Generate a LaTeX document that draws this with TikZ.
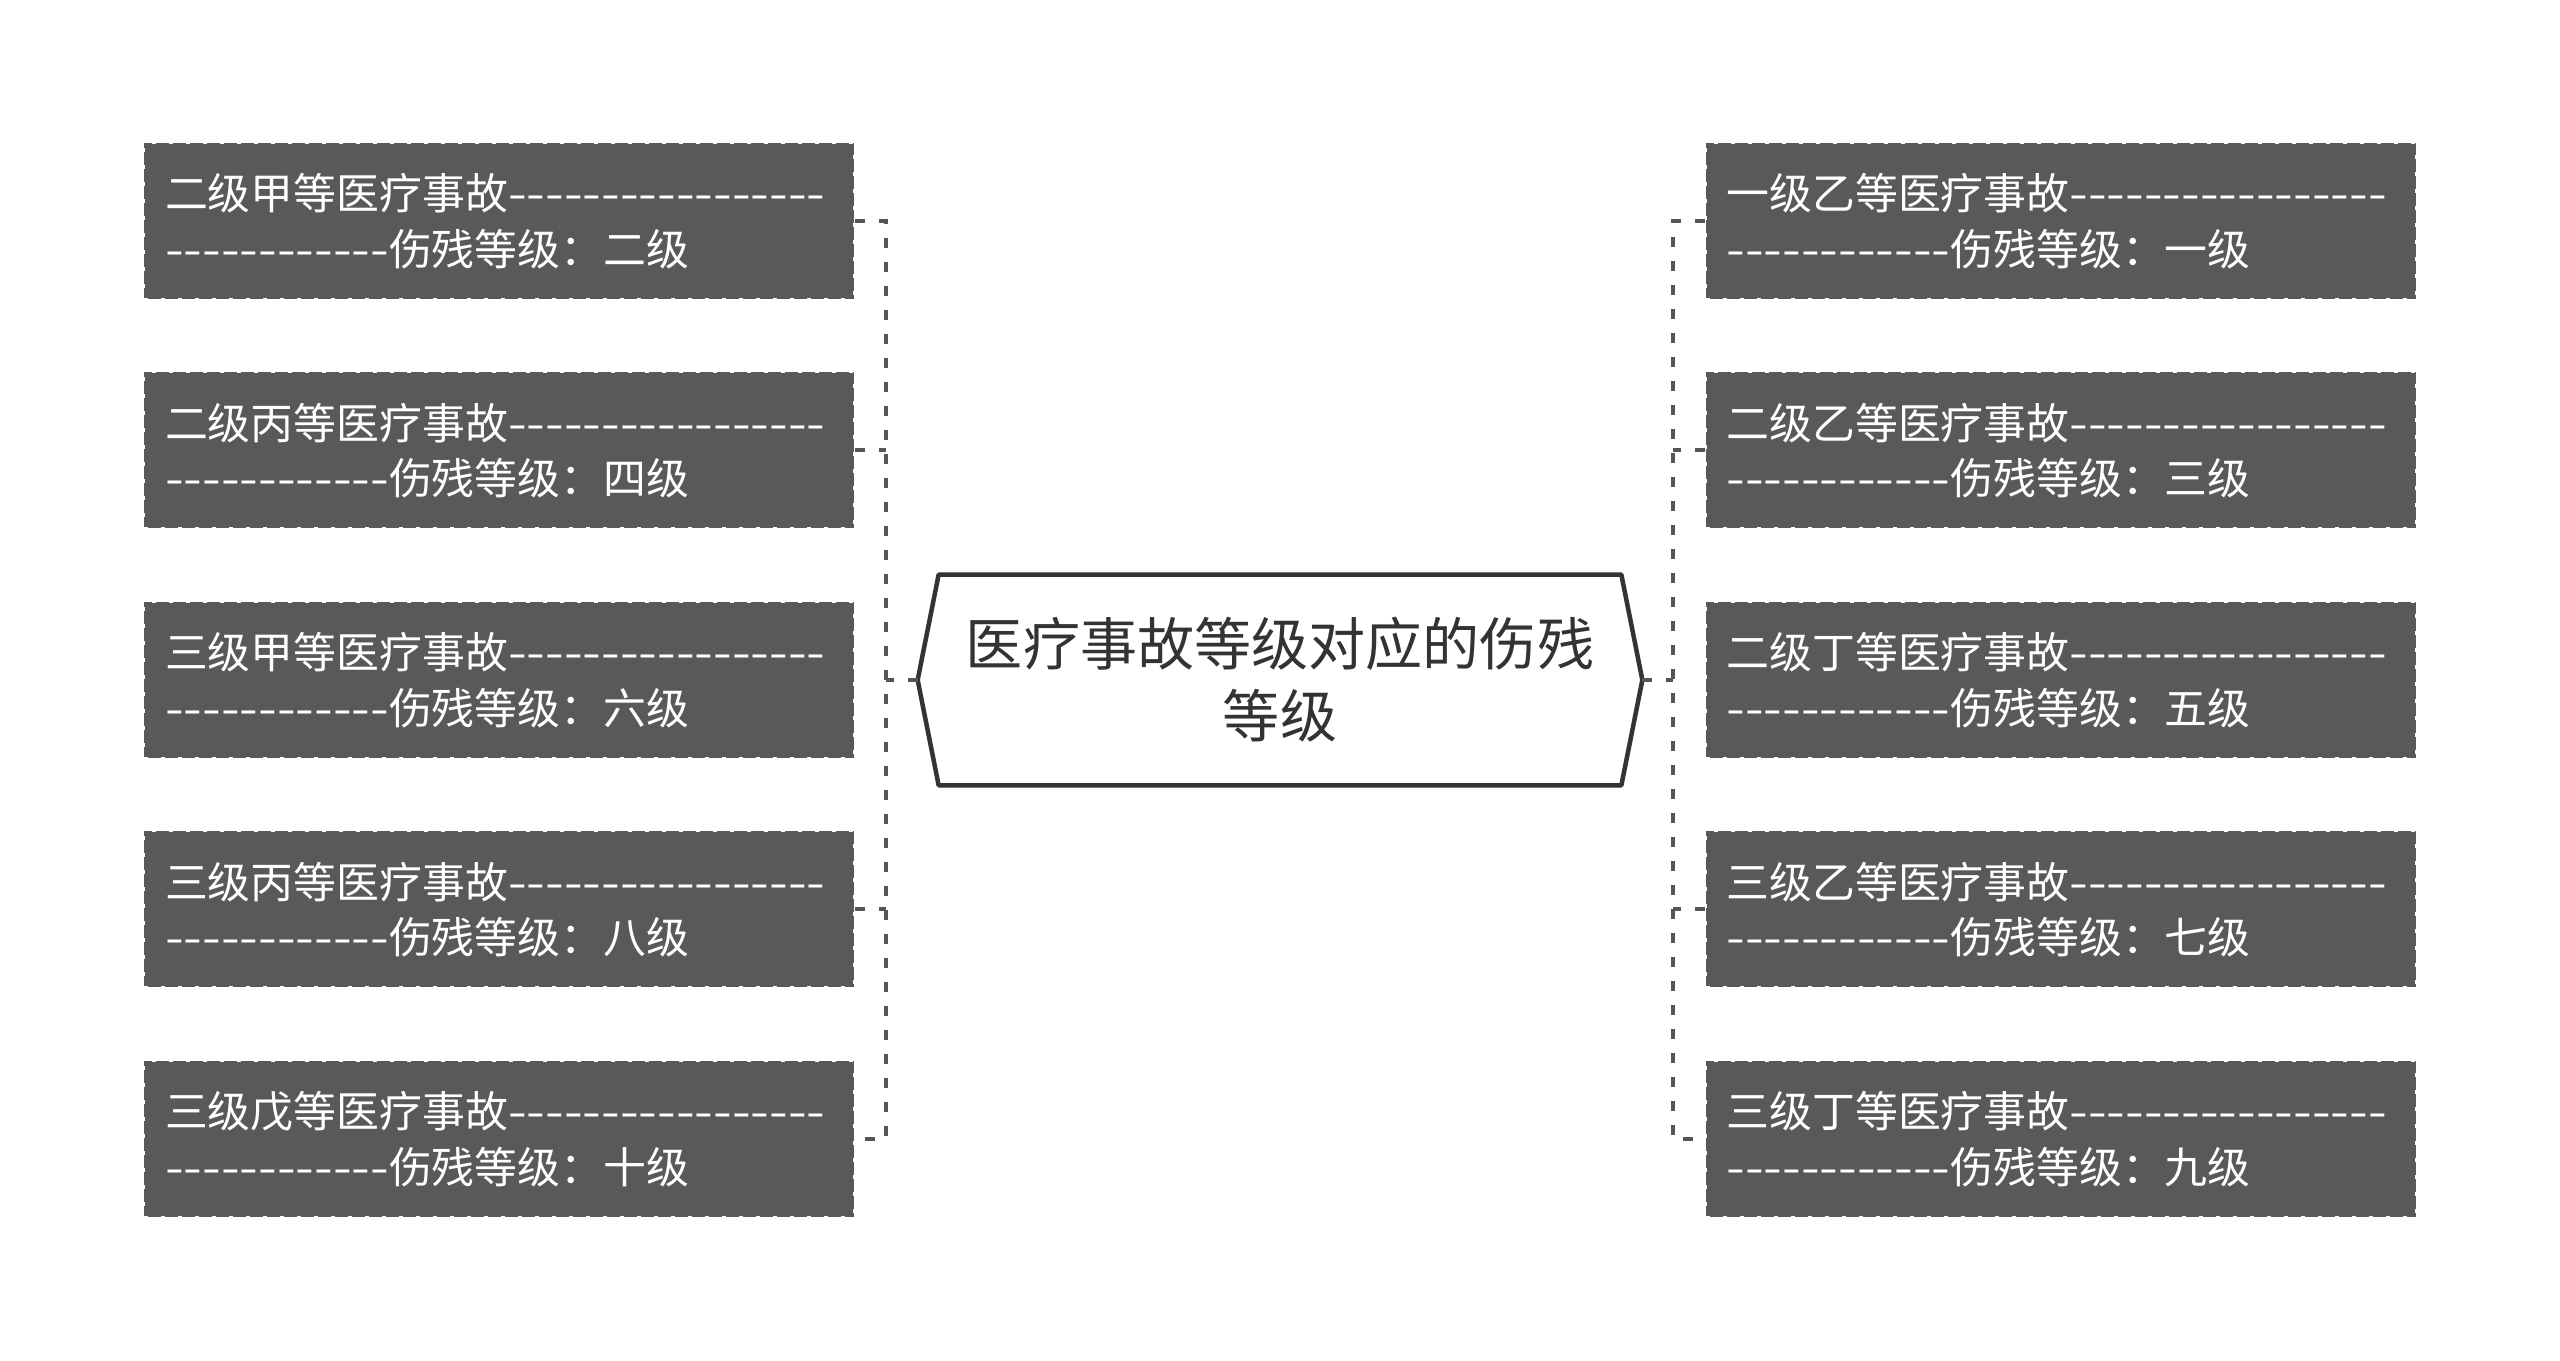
\documentclass[tikz,border=0pt]{standalone}
\usepackage{fontspec}
\usepackage{graphicx}
\setmainfont{Noto Sans CJK SC}[Ligatures=TeXOff]
\usetikzlibrary{calc}
\definecolor{boxgray}{HTML}{595959}
\definecolor{linegray}{HTML}{555555}
\definecolor{ink}{HTML}{333333}
\newcommand{\hy}[1]{\scalebox{1.255}[1]{#1}}

\begin{document}
\begin{tikzpicture}[
  grade/.style={fill=boxgray, draw=white, line width=0.04cm, dash pattern=on 0.08cm off 0.26cm, text=white, align=left, text width=13.36cm, inner xsep=0.42cm, inner ysep=0pt, minimum height=3.12cm, font=\fontsize{24.4}{31.6}\selectfont},
  title/.style={align=center, text width=13.2cm, minimum width=13.64cm, minimum height=4.2cm, inner sep=0pt, text=ink, font=\fontsize{32.5}{41}\selectfont},
  link/.style={draw=linegray, line width=0.08cm, dash pattern=on 0.2cm off 0.28cm}]
  \useasboundingbox (0,0) rectangle (51.2,27.22);
  \node[title] (t) at (25.6,13.62) {医疗事故等级对应的伤残\\等级};
  \coordinate (tipL) at ($(t.west)+(-0.42,0)$);
  \coordinate (tipR) at ($(t.east)+(0.42,0)$);
  \draw[ink, line width=0.09cm, line join=round] (t.north west) -- (t.north east) -- (tipR) -- (t.south east) -- (t.south west) -- (tipL) -- cycle;

  \node[grade] (l1) at (9.98,22.80) {二级甲等医疗事故\hy{-----------------}\\\hy{------------}伤残等级：二级};
  \node[grade] (l2) at (9.98,18.21) {二级丙等医疗事故\hy{-----------------}\\\hy{------------}伤残等级：四级};
  \node[grade] (l3) at (9.98,13.62) {三级甲等医疗事故\hy{-----------------}\\\hy{------------}伤残等级：六级};
  \node[grade] (l4) at (9.98,9.03) {三级丙等医疗事故\hy{-----------------}\\\hy{------------}伤残等级：八级};
  \node[grade] (l5) at (9.98,4.44) {三级戊等医疗事故\hy{-----------------}\\\hy{------------}伤残等级：十级};

  \node[grade] (r1) at (41.21,22.80) {一级乙等医疗事故\hy{-----------------}\\\hy{------------}伤残等级：一级};
  \node[grade] (r2) at (41.21,18.21) {二级乙等医疗事故\hy{-----------------}\\\hy{------------}伤残等级：三级};
  \node[grade] (r3) at (41.21,13.62) {二级丁等医疗事故\hy{-----------------}\\\hy{------------}伤残等级：五级};
  \node[grade] (r4) at (41.21,9.03) {三级乙等医疗事故\hy{-----------------}\\\hy{------------}伤残等级：七级};
  \node[grade] (r5) at (41.21,4.44) {三级丁等医疗事故\hy{-----------------}\\\hy{------------}伤残等级：九级};

  \draw[link] (l1.east) -- ++(0.62,0) |- (l5.east);
  \draw[link] (l2.east) -- ++(0.62,0);
  \draw[link] (l4.east) -- ++(0.62,0);
  \draw[link] (tipL) -- (tipL -| {$(l1.east)+(0.62,0)$});
  \draw[link] (r1.west) -- ++(-0.64,0) |- (r5.west);
  \draw[link] (r2.west) -- ++(-0.64,0);
  \draw[link] (r4.west) -- ++(-0.64,0);
  \draw[link] (tipR) -- (tipR -| {$(r1.west)+(-0.64,0)$});
\end{tikzpicture}
\end{document}
